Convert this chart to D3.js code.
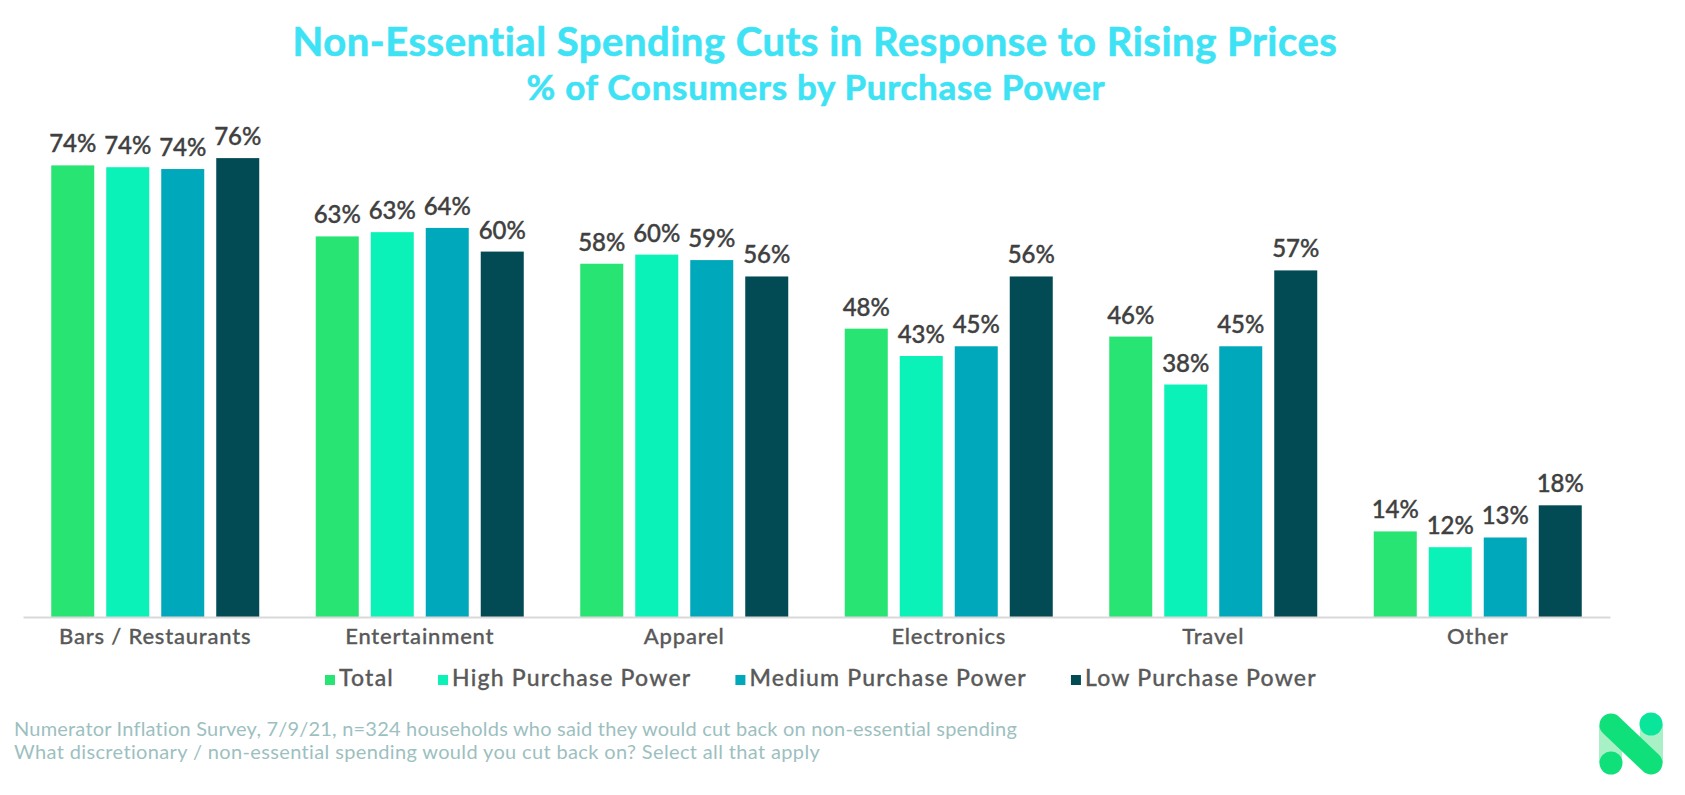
<!DOCTYPE html>
<html>
<head>
<meta charset="utf-8">
<title>Non-Essential Spending Cuts in Response to Rising Prices</title>
<script src="https://cdn.jsdelivr.net/npm/d3@7"></script>
<style>
    html, body { margin: 0; padding: 0; background: #fff; }
    svg { display: block; }
    text { font-family: Lato, "Noto Sans", sans-serif; }
</style>
</head>
<body>
<div id="chart"></div>
<script>
// Values
const categories = ['Bars / Restaurants', 'Entertainment', 'Apparel', 'Electronics', 'Travel', 'Other'];
const seriesNames = ['Total', 'High Purchase Power', 'Medium Purchase Power', 'Low Purchase Power'];
const seriesColors = ['#27e473', '#0af2b8', '#00a8bb', '#024b55'];
const total = [74.4, 62.7, 58.2, 47.5, 46.2, 14.1];
const highPower = [74.1, 63.4, 59.7, 43.0, 38.3, 11.5];
const mediumPower = [73.8, 64.1, 58.8, 44.6, 44.6, 13.1];
const lowPower = [75.6, 60.2, 56.1, 56.1, 57.1, 18.4];
const seriesValues = [total, highPower, mediumPower, lowPower];

const width = 1685;
const height = 795;
const axisLeft = 23;
const axisRight = 1610;
const baseline = 617;
const pxPerPoint = 6.07;

const svg = d3.select('#chart')
    .append('svg')
    .attr('width', width)
    .attr('height', height);

// Scales
const x0 = d3.scaleBand()
    .domain(categories)
    .range([axisLeft, axisRight])
    .paddingInner(0.2136)
    .paddingOuter(0.1068);

const x1 = d3.scaleBand()
    .domain(d3.range(seriesNames.length))
    .range([0, x0.bandwidth()])
    .paddingInner(0.218)
    .paddingOuter(0);

const y = d3.scaleLinear()
    .domain([0, 100])
    .range([baseline, baseline - 100 * pxPerPoint]);

// Title
svg.append('text')
    .attr('x', 815)
    .attr('y', 56)
    .attr('text-anchor', 'middle')
    .style('font-size', '40px')
    .style('font-weight', 700)
    .style('letter-spacing', '0.5px')
    .style('fill', '#3de2f4')
    .style('stroke', '#3de2f4')
    .style('stroke-width', '0.6px')
    .text('Non-Essential Spending Cuts in Response to Rising Prices');

svg.append('text')
    .attr('x', 816)
    .attr('y', 100)
    .attr('text-anchor', 'middle')
    .style('font-size', '35px')
    .style('font-weight', 700)
    .style('letter-spacing', '0.7px')
    .style('fill', '#3de2f4')
    .style('stroke', '#3de2f4')
    .style('stroke-width', '0.6px')
    .text('% of Consumers by Purchase Power');

// Bars and value labels
const groups = svg.selectAll('g.series')
    .data(seriesValues)
    .enter()
    .append('g')
    .attr('class', 'series');

groups.selectAll('rect')
    .data((d, i) => d.map((v, j) => ({ value: v, category: categories[j], series: i })))
    .enter()
    .append('rect')
    .attr('x', d => x0(d.category) + x1(d.series))
    .attr('y', d => y(d.value))
    .attr('width', x1.bandwidth())
    .attr('height', d => y(0) - y(d.value))
    .attr('fill', d => seriesColors[d.series]);

groups.selectAll('text')
    .data((d, i) => d.map((v, j) => ({ value: v, category: categories[j], series: i })))
    .enter()
    .append('text')
    .attr('x', d => x0(d.category) + x1(d.series) + x1.bandwidth() / 2)
    .attr('y', d => y(d.value) - 13)
    .attr('text-anchor', 'middle')
    .style('font-size', '24px')
    .style('font-weight', 500)
    .style('fill', '#404040')
    .style('stroke', '#404040')
    .style('stroke-width', '0.4px')
    .text(d => `${Math.round(d.value)}%`);

// Category axis
const axis = svg.append('g')
    .attr('transform', `translate(0, ${baseline})`)
    .call(d3.axisBottom(x0).tickSize(0).tickPadding(11));

axis.select('.domain')
    .attr('stroke', '#d9d9d9')
    .attr('stroke-width', 2);

axis.selectAll('text')
    .style('font-family', 'Lato, sans-serif')
    .style('font-size', '22px')
    .style('font-weight', 500)
    .style('letter-spacing', '0.8px')
    .style('fill', '#595959')
    .style('stroke', '#595959')
    .style('stroke-width', '0.3px');

// Legend
let legendX = 325;
seriesNames.forEach((name, i) => {
    svg.append('rect')
        .attr('x', legendX)
        .attr('y', 675)
        .attr('width', 10)
        .attr('height', 10)
        .attr('fill', seriesColors[i]);

    const label = svg.append('text')
        .attr('x', legendX + 14)
        .attr('y', 686)
        .style('font-size', '23px')
        .style('font-weight', 500)
        .style('letter-spacing', '1.2px')
        .style('fill', '#595959')
        .style('stroke', '#595959')
        .style('stroke-width', '0.3px')
        .text(name);

    legendX += 14 + label.node().getComputedTextLength() + 44;
});

// Source note
const noteLines = [
    'Numerator Inflation Survey, 7/9/21, n=324 households who said they would cut back on non-essential spending',
    'What discretionary / non-essential spending would you cut back on? Select all that apply'
];
const noteSpacing = ['0.2px', '0.36px'];

svg.selectAll('text.note')
    .data(noteLines)
    .enter()
    .append('text')
    .attr('class', 'note')
    .attr('x', 14)
    .attr('y', (d, i) => 736 + i * 22.5)
    .style('font-size', '20px')
    .style('letter-spacing', (d, i) => noteSpacing[i])
    .style('fill', '#9dbfc0')
    .text(d => d);

// Logo
const logo = svg.append('g');
logo.append('rect').attr('x', 1599).attr('y', 725).attr('width', 23).attr('height', 38).attr('fill', '#a8f0c6');
logo.append('rect').attr('x', 1640).attr('y', 724).attr('width', 23).attr('height', 39).attr('fill', '#a8f0c6');
logo.append('circle').attr('cx', 1651).attr('cy', 724).attr('r', 11.5).attr('fill', '#0ae59c');
logo.append('circle').attr('cx', 1611).attr('cy', 763).attr('r', 11.5).attr('fill', '#0fe07a');
logo.append('line')
    .attr('x1', 1611).attr('y1', 725)
    .attr('x2', 1651).attr('y2', 763)
    .attr('stroke', '#0fe07a')
    .attr('stroke-width', 23)
    .attr('stroke-linecap', 'round');
</script>
</body>
</html>
